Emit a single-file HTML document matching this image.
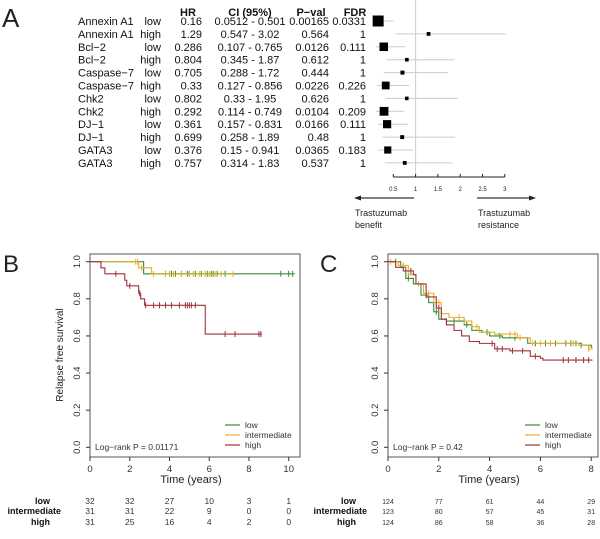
<!DOCTYPE html>
<html><head><meta charset="utf-8"><style>
body{margin:0;background:#fff;}
svg{display:block;font-family:"Liberation Sans",sans-serif;}
</style></head><body>
<svg id="fig" width="600" height="539" viewBox="0 0 600 539" xmlns="http://www.w3.org/2000/svg">
<rect width="600" height="539" fill="#fff"/>
<g id="pA"></g>
<g id="pB"></g>
<g id="pC"></g>
</svg>
<script>
// ---- Panel A data ----
const genes=["Annexin A1","Annexin A1","Bcl−2","Bcl−2","Caspase−7","Caspase−7","Chk2","Chk2","DJ−1","DJ−1","GATA3","GATA3"];
const levels=["low","high","low","high","low","high","low","high","low","high","low","high"];
const hr=[0.16,1.29,0.286,0.804,0.705,0.33,0.802,0.292,0.361,0.699,0.376,0.757];
const ciLo=[0.0512,0.547,0.107,0.345,0.288,0.127,0.33,0.114,0.157,0.258,0.15,0.314];
const ciHi=[0.501,3.02,0.765,1.87,1.72,0.856,1.95,0.749,0.831,1.89,0.941,1.83];
const pval=["0.00165","0.564","0.0126","0.612","0.444","0.0226","0.626","0.0104","0.0166","0.48","0.0365","0.537"];
const fdr=["0.0331","1","0.111","1","1","0.226","1","0.209","0.111","1","0.183","1"];
const forestTicks=[0.5,1,1.5,2,2.5,3];
// ---- Panel B data ----
const bTimes=[0,2,4,6,8,10];
const bLow=[[0,1],[2.7,0.935],[10.3,0.935]];
const bInt=[[0,1],[2.45,0.967],[3.1,0.933],[7.2,0.933]];
const bHigh=[[0,1],[0.55,0.967],[0.75,0.935],[1.75,0.90],[1.85,0.87],[2.45,0.83],[2.55,0.80],[2.75,0.765],[5.8,0.61],[8.65,0.61]];
const bLowCens=[3.8,4.0,4.1,4.3,4.6,4.9,5.0,5.3,5.6,5.9,6.1,6.2,6.4,6.8,9.6,10.0,10.2];
const bIntCens=[2.3,2.4,2.6,3.2,3.8,4.0,4.2,4.6,5.0,5.2,5.5,5.8,6.0,6.3,6.6,7.2];
const bHighCens=[1.3,2.0,2.5,2.8,3.2,3.5,3.8,4.1,4.5,4.8,4.9,5.0,5.1,5.3,6.8,7.3,8.5,8.6];
const bRiskLow=[32,32,27,10,3,1];
const bRiskInt=[31,31,22,9,0,0];
const bRiskHigh=[31,25,16,4,2,0];
// ---- Panel C data ----
const cTimes=[0,2,4,6,8];
const cLow=[[0,1],[0.5,0.97],[0.7,0.91],[1.0,0.88],[1.3,0.82],[1.6,0.78],[1.8,0.73],[2.0,0.69],[2.3,0.68],[3.0,0.66],[3.3,0.63],[3.7,0.62],[4.0,0.60],[4.5,0.59],[5.5,0.56],[7.6,0.55],[8.0,0.54],[8.05,0.54]];
const cInt=[[0,1],[0.4,0.98],[0.8,0.93],[1.1,0.88],[1.4,0.83],[1.8,0.78],[2.1,0.72],[2.4,0.70],[3.0,0.68],[3.3,0.65],[3.6,0.62],[4.2,0.61],[5.1,0.59],[5.6,0.56],[7.5,0.55],[7.9,0.53],[8.05,0.53]];
const cHigh=[[0,1],[0.3,0.97],[0.6,0.95],[1.0,0.93],[1.1,0.88],[1.5,0.81],[1.9,0.75],[2.1,0.69],[2.3,0.66],[2.6,0.63],[2.9,0.60],[3.2,0.57],[3.6,0.56],[4.2,0.53],[4.8,0.52],[5.6,0.49],[6.0,0.48],[6.1,0.47],[8.05,0.47]];
const cLowCens=[0.3,0.8,1.5,1.9,2.3,2.6,3.1,3.9,4.4,5.0,5.8,6.2,6.6,7.0,7.2,7.4,7.6];
const cIntCens=[0.1,0.6,1.2,1.6,2.0,2.8,3.0,3.5,4.8,5.0,5.2,5.7,6.0,6.4,7.3,7.9];
const cHighCens=[0.9,2.0,4.1,4.3,4.5,4.9,5.3,5.8,6.9,7.1,7.4,7.7,7.9];
const cRiskLow=[124,77,61,44,29];
const cRiskInt=[123,80,57,45,31];
const cRiskHigh=[124,86,58,36,28];

const NS="http://www.w3.org/2000/svg";
function mk(parent,tag,attrs,text){const e=document.createElementNS(NS,tag);for(const k in attrs)e.setAttribute(k,attrs[k]);if(text!==undefined)e.textContent=text;parent.appendChild(e);return e;}

// ===== Panel A =====
const A=document.getElementById('pA');
let t=mk(A,'text',{x:2,y:27,'font-size':26,fill:'#222'},'A');


const rowY=i=>21+i*12.9;
const fx=v=>415.6+(v-1)*44.6;
const hdr=[["HR",188],["CI (95%)",250],["P−val",311],["FDR",355]];
hdr.forEach(h=>{const e=mk(A,'text',{x:h[1],y:16,'font-size':11,'font-weight':'bold','text-anchor':'middle',fill:'#111'},h[0]);

});
genes.forEach((g,i)=>{
 const y=rowY(i)+4;
 let e=mk(A,'text',{x:78,y:y,'font-size':11,fill:'#111'},g);
 
 
 e=mk(A,'text',{x:161,y:y,'font-size':11,'text-anchor':'end',fill:'#111'},levels[i]);
 
 
 e=mk(A,'text',{x:202,y:y,'font-size':11,'text-anchor':'end',fill:'#111'},String(hr[i]));
 
 
 e=mk(A,'text',{x:250,y:y,'font-size':11,'text-anchor':'middle',fill:'#111'},ciLo[i]+" - "+ciHi[i]);
 
 
 e=mk(A,'text',{x:329,y:y,'font-size':11,'text-anchor':'end',fill:'#111'},pval[i]);
 
 
 e=mk(A,'text',{x:366,y:y,'font-size':11,'text-anchor':'end',fill:'#111'},fdr[i]);
 
 
});
let vl=mk(A,'line',{x1:fx(1),x2:fx(1),y1:0,y2:177,stroke:'#ccc','stroke-width':1});


hr.forEach((h,i)=>{
 const y=rowY(i);
 let l=mk(A,'line',{x1:fx(ciLo[i]),x2:fx(ciHi[i]),y1:y,y2:y,stroke:'#ccc','stroke-width':1});
 
 
 const s=Math.min(11,3+2.9*(-Math.log10(parseFloat(pval[i]))));
 let r=mk(A,'rect',{x:fx(h)-s/2,y:y-s/2,width:s,height:s,fill:'#000'});
 
 
});
let ax=mk(A,'line',{x1:fx(0.5),x2:fx(3),y1:177,y2:177,stroke:'#222','stroke-width':1});


forestTicks.forEach(v=>{
 let l=mk(A,'line',{x1:fx(v),x2:fx(v),y1:174,y2:177,stroke:'#222'});
 
 
 let e=mk(A,'text',{x:fx(v),y:191,'font-size':6,'text-anchor':'middle',fill:'#222'},String(v));
 
 
});
let ar=mk(A,'line',{x1:414,x2:358,y1:198,y2:198,stroke:'#333','stroke-width':1.2});


mk(A,'polygon',{points:'354,198 361,195.5 361,200.5',fill:'#222'});
ar=mk(A,'line',{x1:477,x2:531,y1:198,y2:198,stroke:'#333','stroke-width':1.2});


mk(A,'polygon',{points:'536,198 529,195.5 529,200.5',fill:'#222'});
[["Trastuzumab",355,216],["benefit",355,228],["Trastuzumab",478,216],["resistance",478,228]].forEach(a=>{
 let e=mk(A,'text',{x:a[1],y:a[2],'font-size':9,fill:'#222'},a[0]);
 
 
});

// ===== KM panels =====
const COL={low:'#3a8a33',int:'#e6b028',high:'#a0303c'};
function stepAt(curve,tt){let s=curve[0][1];for(const p of curve){if(p[0]<=tt)s=p[1];}return s;}
function km(G,o){
 const x=v=>o.x0+v*o.xs, y=v=>447.3-185.6*v;
 let e=mk(G,'text',{x:o.lx,y:272,'font-size':24,fill:'#222'},o.letter);
 
 
 e=mk(G,'rect',{x:o.x0,y:254,width:o.bw,height:203,fill:'none',stroke:'#555','stroke-width':1});
 
 
 [0,0.2,0.4,0.6,0.8,1.0].forEach(v=>{
  let l=mk(G,'line',{x1:o.x0-4,x2:o.x0,y1:y(v),y2:y(v),stroke:'#333'});
  
  
  let tx=mk(G,'text',{x:o.x0-10,y:y(v),'font-size':9.5,'text-anchor':'middle',fill:'#333',transform:`rotate(-90 ${o.x0-10} ${y(v)})`},v.toFixed(1));
  
  
 });
 o.times.forEach(v=>{
  let l=mk(G,'line',{x1:x(v),x2:x(v),y1:457,y2:461,stroke:'#333'});
  
  
  let tx=mk(G,'text',{x:x(v),y:472,'font-size':9.5,'text-anchor':'middle',fill:'#333'},String(v));
  
  
 });
 e=mk(G,'text',{x:o.x0+o.bw/2-4,y:483,'font-size':11,'text-anchor':'middle',fill:'#222'},'Time (years)');
 
 
 if(o.ytitle){e=mk(G,'text',{x:63,y:355,'font-size':10,'text-anchor':'middle',fill:'#222',transform:'rotate(-90 63 355)'},'Relapse free survival');
 
 }
 const series=[['low',o.low,o.lowC],['int',o.int,o.intC],['high',o.high,o.highC]];
 series.forEach(s=>{
  let d='M'+x(s[1][0][0])+','+y(s[1][0][1]);
  for(let i=1;i<s[1].length;i++){d+=' H'+x(s[1][i][0])+' V'+y(s[1][i][1]);}
  let p=mk(G,'path',{d:d,fill:'none',stroke:COL[s[0]],'stroke-width':1.1});
  
  
  s[2].forEach(c=>{const yy=y(stepAt(s[1],c));
   let m=mk(G,'line',{x1:x(c),x2:x(c),y1:yy-3,y2:yy+3,stroke:COL[s[0]],'stroke-width':1});
   
   });
 });
 [['low','low',425],['int','intermediate',435],['high','high',445]].forEach(l=>{
  let ln=mk(G,'line',{x1:o.legx,x2:o.legx+15,y1:l[2],y2:l[2],stroke:COL[l[0]],'stroke-width':1.2});
  
  
  let tx=mk(G,'text',{x:o.legx+20,y:l[2]+3,'font-size':8.5,fill:'#333'},l[1]);
  
  
 });
 e=mk(G,'text',{x:o.x0+5,y:450,'font-size':8.5,fill:'#333'},o.logrank);
 
 
 const rows=[['low',o.rl,501,o.labR[0]],['intermediate',o.ri,511,o.labR[1]],['high',o.rh,522,o.labR[2]]];
 rows.forEach(r=>{
  let tx=mk(G,'text',{x:r[3],y:r[2]+3,'font-size':9,'font-weight':'bold','text-anchor':'end',fill:'#111'},r[0]);
  
  
  r[1].forEach((n,i)=>{
   let nt=mk(G,'text',{x:x(o.times[i]),y:r[2]+3,'font-size':o.rf,'text-anchor':'middle',fill:'#333'},String(n));
   
   
  });
 });
}
km(document.getElementById('pB'),{letter:'B',lx:3,x0:90,xs:19.87,bw:210,times:bTimes,ytitle:true,
 low:bLow,int:bInt,high:bHigh,lowC:bLowCens,intC:bIntCens,highC:bHighCens,legx:225,logrank:'Log−rank P = 0.01171',
 rl:bRiskLow,ri:bRiskInt,rh:bRiskHigh,labR:[50,61,50],rf:8.5});
km(document.getElementById('pC'),{letter:'C',lx:320,x0:388,xs:25.4,bw:210,times:cTimes,ytitle:false,
 low:cLow,int:cInt,high:cHigh,lowC:cLowCens,intC:cIntCens,highC:cHighCens,legx:525,logrank:'Log−rank P = 0.42',
 rl:cRiskLow,ri:cRiskInt,rh:cRiskHigh,labR:[356,367,356],rf:7});
</script>
</body></html>
